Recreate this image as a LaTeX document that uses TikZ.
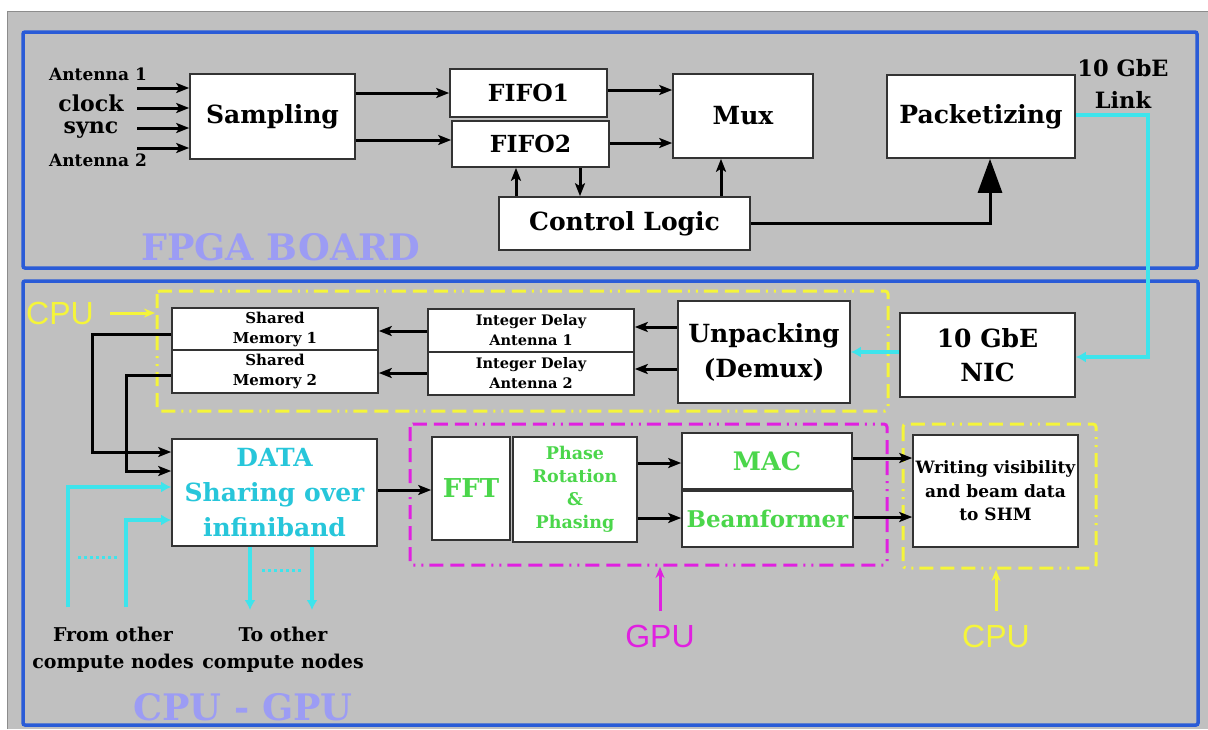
\documentclass[tikz,border=0pt]{standalone}
\usepackage{fontspec}
\setmainfont{DejaVu Serif}
\newfontfamily\sansf{Liberation Sans}
\usetikzlibrary{arrows.meta}
\definecolor{bg}{HTML}{C0C0C0}
\definecolor{frame}{HTML}{2A5BD7}
\definecolor{lbl}{HTML}{9C9CF4}
\definecolor{cy}{HTML}{3EE4EC}
\definecolor{cytext}{HTML}{27C6DA}
\definecolor{gr}{HTML}{4BD64B}
\definecolor{mag}{HTML}{E020E0}
\definecolor{yel}{HTML}{F5F53A}
\newcommand{\fs}[2]{\fontsize{#1}{#2}\selectfont}
\begin{document}
\begin{tikzpicture}[x=1pt,y=-1pt,
  box/.style={draw=black!80,fill=white,line width=1.6pt,inner sep=0pt,align=center,font=\bfseries},
  arr/.style={line width=3pt,-{Stealth[length=13pt,width=10pt,inset=3pt]}},
  cyarr/.style={cy,line width=4pt,-{Latex[length=10pt,width=11pt]}},
  ddot/.style={line width=3pt,rounded corners=3pt,dash pattern=on 14pt off 7pt on 14pt off 7pt on 14pt off 6pt on 2pt off 6pt on 2pt off 6pt},
  lab/.style={inner sep=0pt,align=center,font=\bfseries},
  big/.style={inner sep=0pt,text=lbl,font=\bfseries\fs{36.5}{40}},
  tag/.style={inner sep=0pt,font=\sansf\fs{32}{36}},
  tagarr/.style={line width=3pt,-{Stealth[length=11pt,width=9pt]}}
]
\useasboundingbox (0,0) rectangle (1208,729);
\fill[white] (0,0) rectangle (1208,729);
\fill[bg] (7,11) rectangle (1208,729);
\draw[black!45,line width=1pt] (7,729) -- (7,11) -- (1208,11);

% frames
\draw[frame,line width=3.5pt,rounded corners=2pt] (23,32) rectangle (1197,268);
\draw[frame,line width=3.5pt,rounded corners=2pt] (23,281) rectangle (1198,725);
\node[big] (fpgalbl) at (281,247) {FPGA BOARD};
\node[big] (cpugpulbl) at (243,707) {CPU - GPU};

% dash-dot regions
\draw[ddot,yel] (157,291) rectangle (888,411);
\draw[ddot,mag] (410,424) rectangle (887,565);
\draw[ddot,yel] (903,424) rectangle (1096,568);

% FPGA nodes
\node[box,minimum width=165pt,minimum height=85pt,font=\bfseries\fs{25}{31}] (samp) at (272.5,116.5) {Sampling};
\node[box,minimum width=157pt,minimum height=48pt,font=\bfseries\fs{23.5}{28}] (fifo1) at (528.5,93) {FIFO1};
\node[box,minimum width=157pt,minimum height=46pt,font=\bfseries\fs{23.5}{28}] (fifo2) at (530.5,144) {FIFO2};
\node[box,minimum width=140pt,minimum height=84pt,font=\bfseries\fs{25}{31}] (mux) at (743,116) {Mux};
\node[box,minimum width=251pt,minimum height=53pt,font=\bfseries\fs{25}{31}] (ctl) at (624.5,223.5) {Control Logic};
\node[box,minimum width=188pt,minimum height=83pt,font=\bfseries\fs{25}{31}] (pack) at (981,116.5) {Packetizing};

% input labels
\node[lab,font=\bfseries\fs{17}{20}] (lant1) at (98,74) {Antenna 1};
\node[lab,font=\bfseries\fs{22}{22}] (lclk) at (91,117) {clock\\sync};
\node[lab,font=\bfseries\fs{17}{20}] (lant2) at (98,160) {Antenna 2};
\node[lab,font=\bfseries\fs{22.5}{32}] (llink) at (1123,84) {10 GbE\\Link};

\coordinate (in1) at (137,88);
\coordinate (in2) at (137,108);
\coordinate (in3) at (137,128);
\coordinate (in4) at (137,148);
\foreach \c in {in1,in2,in3,in4}{\draw[arr] (\c) -- (samp.west |- \c);}

\draw[arr] (samp.east |- 0,93) -- (fifo1.west |- 0,93);
\draw[arr] (samp.east |- 0,140) -- (fifo2.west |- 0,140);
\draw[arr] (fifo1.east |- 0,90) -- (mux.west |- 0,90);
\draw[arr] (fifo2.east |- 0,143) -- (mux.west |- 0,143);
\draw[arr] (ctl.north -| 516,0) -- (fifo2.south -| 516,0);
\draw[arr] (fifo2.south -| 580,0) -- (ctl.north -| 580,0);
\draw[arr] (ctl.north -| 721,0) -- (mux.south -| 721,0);
\draw[line width=3pt,-{Triangle[length=34pt,width=24pt]}] (ctl.east) -| (pack.south -| 990,0);

% CPU nodes
\node[box,minimum width=175pt,minimum height=84pt,font=\bfseries\fs{25}{34}] (nic) at (987.5,355) {10 GbE\\NIC};
\node[box,minimum width=172pt,minimum height=102pt,font=\bfseries\fs{25}{35}] (unp) at (764,352) {Unpacking\\(Demux)};
\node[box,minimum width=206pt,minimum height=42pt,font=\bfseries\fs{15}{20}] (sm1) at (275,329) {Shared\\Memory 1};
\node[box,minimum width=206pt,minimum height=43pt,font=\bfseries\fs{15}{20}] (sm2) at (275,371.5) {Shared\\Memory 2};
\node[box,minimum width=206pt,minimum height=43pt,font=\bfseries\fs{14.5}{20}] (id1) at (531,330.5) {Integer Delay\\Antenna 1};
\node[box,minimum width=206pt,minimum height=43pt,font=\bfseries\fs{14.5}{20}] (id2) at (531,373.5) {Integer Delay\\Antenna 2};
\node[box,minimum width=205pt,minimum height=107pt,text=cytext,font=\bfseries\fs{25}{35}] (data) at (274.5,492.5) {DATA\\Sharing over\\infiniband};
\node[box,minimum width=78pt,minimum height=103pt,text=gr,font=\bfseries\fs{26}{30}] (fft) at (471,488.5) {FFT};
\node[box,minimum width=124pt,minimum height=105pt,text=gr,font=\bfseries\fs{17.5}{23}] (ph) at (575,489.5) {Phase\\Rotation\\\&\\Phasing};
\node[box,minimum width=170pt,minimum height=56pt,text=gr,font=\bfseries\fs{25.5}{30}] (mac) at (767,461) {MAC};
\node[box,minimum width=171pt,minimum height=56pt,text=gr,font=\bfseries\fs{23}{30}] (bf) at (767.5,519) {Beamformer};
\node[box,minimum width=165pt,minimum height=112pt,font=\bfseries\fs{17}{23.5}] (wr) at (995.5,491) {Writing visibility\\and beam data\\to SHM};

% link
\draw[cyarr] (pack.east |- 0,115) -- (1148,115) -- (1148,357) -- (nic.east |- 0,357);
\draw[cyarr] (nic.west |- 0,352) -- (unp.east |- 0,352);

\draw[arr] (unp.west |- 0,327) -- (id1.east |- 0,327);
\draw[arr] (unp.west |- 0,369) -- (id2.east |- 0,369);
\draw[arr] (id1.west |- 0,331) -- (sm1.east |- 0,331);
\draw[arr] (id2.west |- 0,373) -- (sm2.east |- 0,373);
\draw[arr] (sm1.west |- 0,334) -- (92,334) -- (92,452) -- (data.west |- 0,452);
\draw[arr] (sm2.west |- 0,375) -- (126,375) -- (126,471) -- (data.west |- 0,471);

% infiniband in/out
\coordinate (from1) at (68,607);
\coordinate (from2) at (126,607);
\coordinate (to1) at (250,610);
\coordinate (to2) at (312,610);
\draw[cyarr] (from1) -- (68,487) -- (data.west |- 0,487);
\draw[cyarr] (from2) -- (126,520) -- (data.west |- 0,520);
\draw[cy,line width=3pt,dash pattern=on 3pt off 3pt] (78,557) -- (118,557);
\draw[cyarr] (data.south -| to1) -- (to1);
\draw[cyarr] (data.south -| to2) -- (to2);
\draw[cy,line width=3pt,dash pattern=on 3pt off 3pt] (262,570) -- (302,570);
\node[lab,font=\bfseries\fs{19}{27}] (lfrom) at (113,650) {From other\\compute nodes};
\node[lab,font=\bfseries\fs{19}{27}] (lto) at (283,650) {To other\\compute nodes};

% GPU chain
\draw[arr] (data.east |- 0,490) -- (fft.west |- 0,490);
\draw[arr] (ph.east |- 0,463) -- (mac.west |- 0,463);
\draw[arr] (ph.east |- 0,518) -- (bf.west |- 0,518);
\draw[arr] (mac.east |- 0,458) -- (wr.west |- 0,458);
\draw[arr] (bf.east |- 0,517) -- (wr.west |- 0,517);

% tags
\node[tag,text=yel] (tcpu1) at (60,313) {CPU};
\coordinate (tcpu1a) at (110,313);
\coordinate (tcpu1b) at (155,313);
\draw[tagarr,yel] (tcpu1a) -- (tcpu1b);
\node[tag,text=mag] (tgpu) at (660,636) {GPU};
\coordinate (tgpua) at (660,611);
\coordinate (tgpub) at (660,567);
\draw[tagarr,mag] (tgpua) -- (tgpub);
\node[tag,text=yel] (tcpu2) at (996,636) {CPU};
\coordinate (tcpu2a) at (996,611);
\coordinate (tcpu2b) at (996,570);
\draw[tagarr,yel] (tcpu2a) -- (tcpu2b);
\end{tikzpicture}
\end{document}
